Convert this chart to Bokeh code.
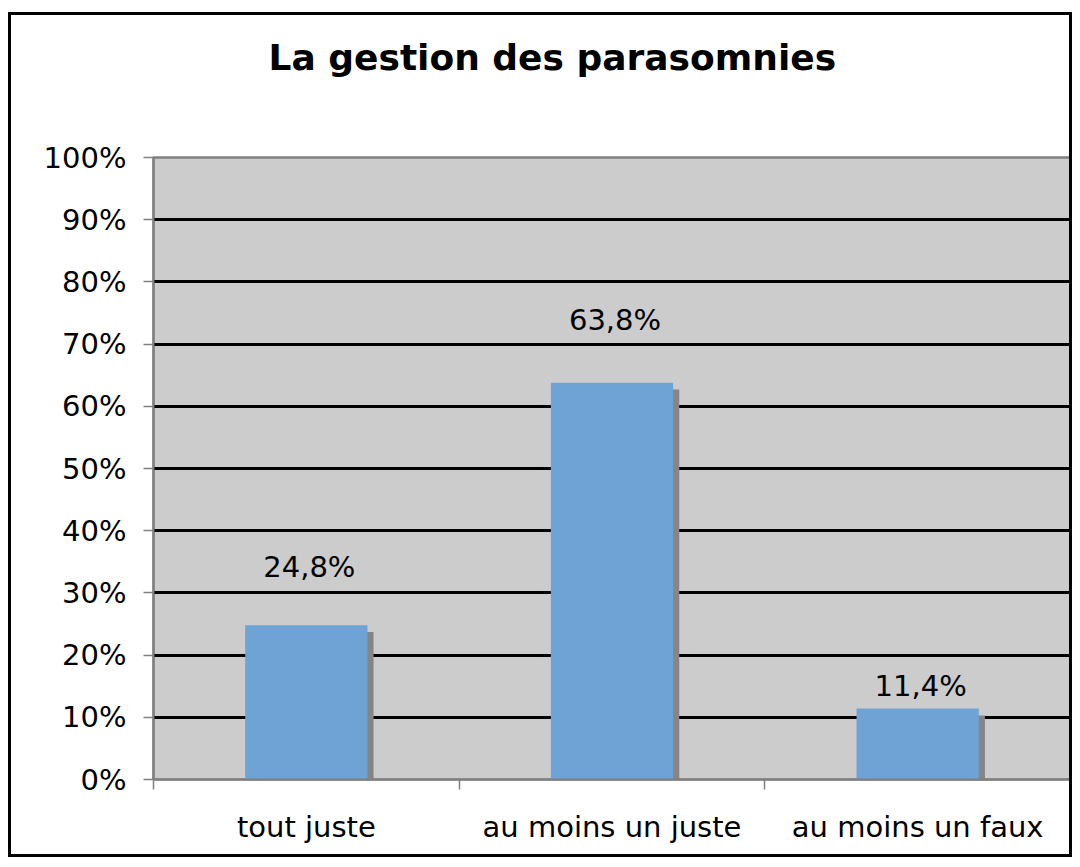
from bokeh.plotting import figure
from bokeh.models import (Range1d, LinearAxis, FixedTicker,
                          NumeralTickFormatter, ColumnDataSource)
from bokeh.core.properties import value
from bokeh.embed import file_html
from bokeh.resources import INLINE

categories = ["tout juste", "au moins un juste", "au moins un faux"]
values = [0.248, 0.638, 0.114]
value_labels = ["24,8%", "63,8%", "11,4%"]
y_ticks = [0.0, 0.1, 0.2, 0.3, 0.4, 0.5, 0.6, 0.7, 0.8, 0.9, 1.0]
title_text = "La gestion des parasomnies"

# styling
FONT = "DejaVu Sans"
BAR_COLOR = "#6FA3D6"
SHADOW_COLOR = "#858585"
label_lift = [-58, -63, -23]   # label distance above bar top (px)

n = len(categories)
centers = [i + 0.5 for i in range(n)]          # slot centres on the category scale
boundaries = [float(i) for i in range(n + 1)]  # slot boundaries

src = ColumnDataSource(dict(
    x=centers,
    xs=[c + 0.02 for c in centers],
    val=values,
    shadow_top=[v - 0.011 for v in values],
    lbl=value_labels,
    lift=label_lift,
))

p = figure(width=1064, height=845,
           x_range=Range1d(0, n), y_range=Range1d(0, 1),
           x_axis_location=None, y_axis_location="left",
           output_backend="svg", toolbar_location=None,
           min_border_left=142, min_border_right=5,
           min_border_top=142, min_border_bottom=81)

p.border_fill_color = "white"
p.styles = {"border": "3px solid black", "margin-left": "8px", "margin-top": "12px"}

# a trailing blank line lifts the title towards the top of the chart box
p.title.text = title_text + "\n "
p.title.text_font = FONT
p.title.text_font_style = "bold"
p.title.text_font_size = "36px"
p.title.text_line_height = 1.5
p.title.text_color = "black"
p.title.align = "left"
p.title.offset = 115
p.title.vertical_align = "top"
p.title.standoff = 32

p.background_fill_color = "#CCCCCC"
p.outline_line_color = "#808080"
p.outline_line_width = 2.5

p.xgrid.visible = False
p.ygrid.ticker = FixedTicker(ticks=y_ticks[1:-1])
p.ygrid.grid_line_color = "black"
p.ygrid.grid_line_width = 3

ya = p.yaxis[0]
ya.ticker = FixedTicker(ticks=y_ticks)
ya.formatter = NumeralTickFormatter(format="0%")
ya.major_label_text_font = FONT
ya.major_label_text_font_size = "29px"
ya.major_label_text_color = "black"
ya.axis_line_color = "#808080"
ya.axis_line_width = 2
ya.major_tick_line_color = "#808080"
ya.major_tick_line_width = 1.5
ya.major_tick_out = 10
ya.major_tick_in = 0
ya.minor_tick_line_color = None
ya.major_label_standoff = 17

xa = LinearAxis(ticker=FixedTicker(ticks=centers, minor_ticks=boundaries))
xa.major_label_overrides = {c: name for c, name in zip(centers, categories)}
xa.axis_line_color = "#808080"
xa.axis_line_width = 2
xa.major_tick_line_color = None
xa.minor_tick_line_color = "#808080"
xa.minor_tick_line_width = 1.5
xa.minor_tick_out = 10
xa.minor_tick_in = 0
xa.major_label_text_font = FONT
xa.major_label_text_font_size = "29px"
xa.major_label_text_color = "black"
xa.major_label_standoff = 20
p.add_layout(xa, "below")

p.vbar(x="xs", top="shadow_top", width=0.4,
       source=src, fill_color=SHADOW_COLOR, line_color=None)
p.vbar(x="x", top="val", width=0.4, source=src,
       fill_color=BAR_COLOR, line_color=None)

p.text(x="x", y="val", text="lbl", source=src, y_offset="lift", x_offset=3,
       text_align="center", text_baseline="middle",
       text_font=value(FONT), text_font_size="29px", text_color="black")

open("out.html", "w").write(file_html(p, INLINE))
